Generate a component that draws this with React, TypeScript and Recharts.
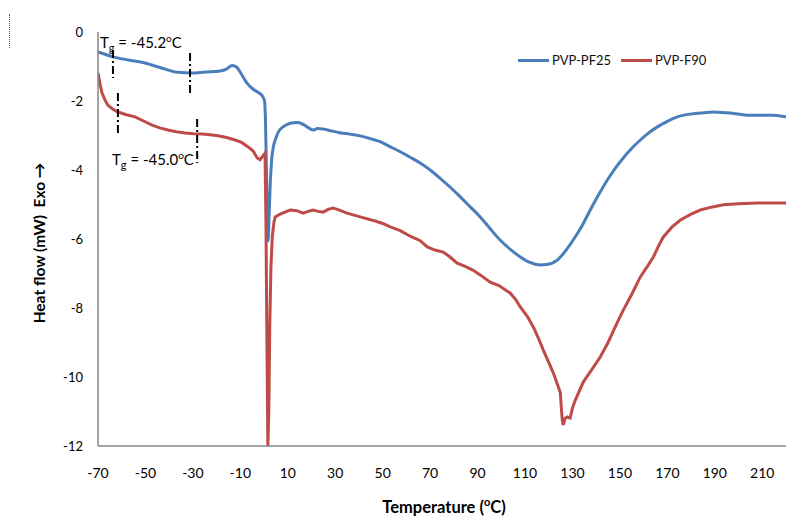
import { Label, Legend, Line, LineChart, ReferenceDot, ReferenceLine, XAxis, YAxis } from "recharts";

const pf25Temp = [
  -70, -66.5, -63.7, -57.3, -50.2, -43, -36.3, -30.4, -24.9, -18.5, -15.5, -13.5, -11.5, -10.1, -7.2, -4.6, -2.5,
  -0.8, 0.2, 0.6, 1.0, 1.4, 1.7, 2.1, 2.6, 3.2, 4.0, 4.7, 6, 8, 10, 12.2, 14.4, 17, 20.7, 22.5, 24.9, 28, 32, 36,
  40.5, 44.8, 48.9, 53, 57.4, 61.6, 65.8, 70, 74.2, 78.5, 82.7, 86.9, 91.1, 95.3, 99.5, 103.8, 108, 112, 116.4, 119,
  123.6, 127, 130.3, 134, 137.5, 141, 144.7, 148, 151.4, 155, 158.6, 162, 165.8, 170, 174.2, 177, 179.6, 184, 189.4,
  193, 196.5, 200, 203.7, 209, 214.7, 220,
];
const pf25Flow = [
  -0.58, -0.66, -0.72, -0.81, -0.9, -1.05, -1.17, -1.19, -1.16, -1.13, -1.06, -0.97, -1.02, -1.16, -1.48, -1.66, -1.75,
  -1.85, -2.0, -2.6, -4.0, -5.4, -6.05, -5.4, -4.4, -3.7, -3.3, -3.13, -2.9, -2.75, -2.67, -2.63, -2.62, -2.7, -2.84,
  -2.8, -2.81, -2.86, -2.92, -2.96, -3.01, -3.09, -3.18, -3.32, -3.47, -3.63, -3.8, -4.0, -4.24, -4.5, -4.78, -5.07,
  -5.36, -5.7, -6.03, -6.3, -6.52, -6.68, -6.75, -6.74, -6.61, -6.35, -6.03, -5.62, -5.16, -4.72, -4.29, -3.95, -3.65,
  -3.37, -3.13, -2.93, -2.75, -2.59, -2.46, -2.41, -2.38, -2.35, -2.32, -2.33, -2.35, -2.38, -2.41, -2.41, -2.41, -2.46,
];

const f90Temp = [
  -70, -69, -68.3, -67, -65.8, -63.7, -61.6, -58, -54.4, -50.8, -47.2, -44, -40.5, -37, -33.3, -29.7, -26.1, -22.8,
  -19.4, -15.8, -12.2, -9.5, -6.7, -4.6, -2.9, -1.7, -0.8, 0.4, 0.8, 1.2, 1.6, 2.0, 2.4, 2.9, 3.5, 4.2, 4.7, 6.8, 11,
  13.8, 16.5, 18.6, 20.7, 22.8, 24.9, 27, 29.1, 32, 35, 40.5, 46.8, 50, 53.2, 57.4, 61.6, 65.8, 68.8, 72, 75.5, 78,
  81.4, 85, 88, 91.1, 95.3, 99, 103.8, 106, 108, 111, 113.5, 115.8, 117.7, 119.8, 121.9, 123.6, 124.9, 125.3, 125.7,
  126.1, 126.9, 127.8, 129, 130, 131.2, 134.6, 138, 141.7, 145, 148, 151.4, 155, 158.6, 161.5, 164.1, 166.3, 168.3,
  172, 175.5, 180, 183.9, 189, 193.6, 200, 207.9, 214, 220,
];
const f90Flow = [
  -1.19, -1.55, -1.77, -1.98, -2.12, -2.24, -2.32, -2.4, -2.46, -2.58, -2.7, -2.78, -2.84, -2.89, -2.93, -2.95, -2.96,
  -2.98, -3.01, -3.06, -3.13, -3.2, -3.33, -3.45, -3.65, -3.7, -3.62, -3.51, -5.5, -9.0, -12.0, -11.0, -8.5, -6.8,
  -5.9, -5.5, -5.36, -5.28, -5.16, -5.18, -5.25, -5.2, -5.16, -5.2, -5.22, -5.14, -5.1, -5.17, -5.25, -5.36, -5.48,
  -5.55, -5.65, -5.76, -5.92, -6.05, -6.23, -6.32, -6.38, -6.5, -6.7, -6.8, -6.9, -7.04, -7.25, -7.35, -7.57, -7.75,
  -7.97, -8.25, -8.55, -8.9, -9.22, -9.55, -9.88, -10.2, -10.46, -10.9, -11.25, -11.39, -11.2, -11.16, -11.19, -10.9,
  -10.67, -10.14, -9.8, -9.42, -9.0, -8.55, -8.06, -7.6, -7.1, -6.8, -6.52, -6.2, -5.94, -5.65, -5.45, -5.28, -5.16,
  -5.07, -5.01, -4.98, -4.96, -4.96, -4.96,
];

const xTicks = [-70, -50, -30, -10, 10, 30, 50, 70, 90, 110, 130, 150, 170, 190, 210];
const yTicks = [0, -2, -4, -6, -8, -10, -12];

// Tg onset / end markers: [temperature, top, bottom]
const tgMarks = [
  [-63.7, -0.52, -1.33],
  [-31.2, -0.61, -1.77],
  [-61.6, -1.77, -3.01],
  [-28.2, -2.52, -3.8],
];
// Tg labels: [temperature, heat flow at baseline, value]
const tgLabels: [number, number, string][] = [
  [-69.2, -0.46, "-45.2"],
  [-64.1, -3.86, "-45.0"],
];

const pf25 = pf25Temp.map((t, i) => ({ t, v: pf25Flow[i] }));
const f90 = f90Temp.map((t, i) => ({ t, v: f90Flow[i] }));

const BLUE = "#4a7ebb";
const RED = "#be4b48";
const FONT = "Lato, 'Open Sans', sans-serif";

const series = [
  { name: "PVP-PF25", color: BLUE },
  { name: "PVP-F90", color: RED },
];

function TgText({ viewBox, value }: any) {
  const x = viewBox.x;
  const y = viewBox.y;
  return (
    <text x={x} y={y} fontFamily={FONT} fontSize={15} fill="#000">
      <tspan>T</tspan>
      <tspan dy={4} fontSize={11}>g</tspan>
      <tspan dy={-4}>{` = ${value}`}</tspan>
      <tspan dy={-6} fontSize={10}>o</tspan>
      <tspan dy={6}>C</tspan>
    </text>
  );
}

function LegendBox() {
  return (
    <div style={{ display: "flex", alignItems: "center", fontFamily: FONT, fontSize: 13, color: "#111" }}>
      {series.map((s) => (
        <div key={s.name} style={{ display: "flex", alignItems: "center", marginRight: 10 }}>
          <span style={{ display: "inline-block", width: 31, height: 3, background: s.color, marginRight: 3 }} />
          <span>{s.name}</span>
        </div>
      ))}
    </div>
  );
}

export default function App() {
  return (
    <div style={{ position: "absolute", left: 0, top: 0, width: 788, height: 520, background: "#fff" }}>
      <div
        style={{
          position: "absolute",
          left: 9,
          top: 14,
          height: 34,
          borderLeft: "1px dotted #2f5f9f",
        }}
      />
      <LineChart width={788} height={520} margin={{ top: 32, right: 2, bottom: 73, left: 97 }}>
        <XAxis
          type="number"
          dataKey="t"
          domain={[-70, 220]}
          ticks={xTicks}
          allowDataOverflow
          height={1}
          tickSize={0}
          tickMargin={22}
          tickLine={false}
          axisLine={{ stroke: "#868686", strokeWidth: 1.5 }}
          tick={{ fontFamily: FONT, fontSize: 14, fill: "#000" }}
        >
          <Label
            content={() => (
              <text x={444} y={513} textAnchor="middle" fontFamily={FONT} fontSize={16.5} fontWeight="bold" fill="#000">
                <tspan>Temperature (</tspan>
                <tspan dy={-7} fontSize={11}>o</tspan>
                <tspan dy={7}>C)</tspan>
              </text>
            )}
          />
        </XAxis>
        <YAxis
          type="number"
          domain={[-12, 0]}
          ticks={yTicks}
          allowDataOverflow
          width={1}
          tickSize={0}
          tickMargin={15}
          tickLine={false}
          axisLine={{ stroke: "#868686", strokeWidth: 1.5 }}
          tick={{ fontFamily: FONT, fontSize: 13, fill: "#000" }}
        >
          <Label
            content={() => (
              <text
                x={45}
                y={243}
                transform="rotate(-90 45 243)"
                textAnchor="middle"
                fontFamily={FONT}
                fontSize={15.5}
                fontWeight="bold"
                fill="#000"
              >
                {"Heat flow (mW)\u00a0\u00a0Exo \u2192"}
              </text>
            )}
          />
        </YAxis>
        <Legend
          layout="horizontal"
          verticalAlign="middle"
          align="center"
          wrapperStyle={{ top: 52, left: 518, width: "auto" }}
          content={() => <LegendBox />}
        />
        <Line
          data={pf25}
          dataKey="v"
          name="PVP-PF25"
          type="monotone"
          stroke={BLUE}
          strokeWidth={3}
          dot={false}
          isAnimationActive={false}
        />
        <Line
          data={f90}
          dataKey="v"
          name="PVP-F90"
          type="linear"
          stroke={RED}
          strokeWidth={3}
          dot={false}
          isAnimationActive={false}
        />
        {tgMarks.map(([t, top, bottom], i) => (
          <ReferenceLine
            key={i}
            segment={[
              { x: t, y: top },
              { x: t, y: bottom },
            ]}
            stroke="#000"
            strokeWidth={2}
            strokeDasharray="8 3 2 3"
          />
        ))}
        {tgLabels.map(([t, v, val], i) => (
          <ReferenceDot
            key={i}
            x={t}
            y={v}
            r={0}
            fill="none"
            stroke="none"
            label={<TgText value={val} />}
          />
        ))}
      </LineChart>
    </div>
  );
}
